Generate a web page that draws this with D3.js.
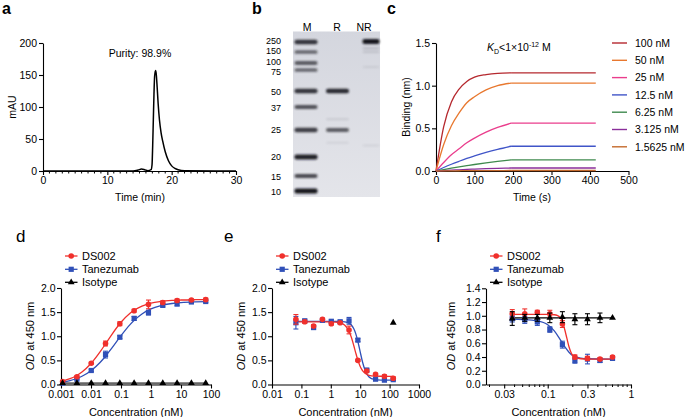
<!DOCTYPE html>
<html><head><meta charset="utf-8">
<script src="https://cdn.jsdelivr.net/npm/d3@7"></script>
<style>body{margin:0;background:#fff}svg{display:block}</style>
</head><body>
<svg id="c" width="685" height="417"></svg>
<script>
// ================= DATA =================
// a: SEC-HPLC chromatogram
const secTime = [0,14,14.8,15.3,15.8,16.3,16.8,16.95,17.05,17.15,17.25,17.35,17.5,17.6,17.75,17.9,18.1,18.35,18.6,19.0,19.5,20.0,20.5,21.0,22.0,30];
const secMAU  = [0,0,1.5,3,2,0.5,2,10,40,80,120,148,157,152,130,105,80,60,47,30,16,8,4,2,0.5,0];
const secXTicks = [0,10,20,30];
const secYTicks = [0,50,100,150,200];
const purityText = "Purity: 98.9%";

// b: SDS-PAGE
const gelLanes = ["M","R","NR"];
const markerKDa = [250,150,100,75,50,37,25,20,15,10];
const markerIntensity = [0.85,0.6,0.65,0.6,0.85,0.7,0.8,0.95,0.75,1.0];
const reducedKDa = [50,25,30,22.5];
const reducedIntensity = [0.9,0.65,0.1,0.07];
const nonReducedKDa = [255,180,150,85,22];
const nonReducedIntensity = [1.0,0.15,0.12,0.07,0.07];

// c: BLI sensorgram
const bliTime = [0,20,40,60,80,100,130,160,195,415];
const bliLabels = ["100 nM","50 nM","25 nM","12.5 nM","6.25 nM","3.125 nM","1.5625 nM"];
const bliValues = [
  [0,0.52,0.81,0.96,1.05,1.10,1.13,1.145,1.15,1.15],
  [0,0.31,0.53,0.68,0.80,0.87,0.95,1.00,1.03,1.03],
  [0,0.10,0.19,0.26,0.33,0.385,0.455,0.51,0.56,0.56],
  [0,0.041,0.079,0.114,0.147,0.176,0.217,0.253,0.29,0.29],
  [0,0.017,0.033,0.048,0.062,0.076,0.095,0.112,0.13,0.13],
  [0,0.005,0.010,0.014,0.018,0.022,0.027,0.031,0.035,0.035],
  [0,0.001,0.002,0.003,0.004,0.004,0.005,0.005,0.006,0.006]
];
const bliXTicks = [0,100,200,300,400,500];
const bliYTicks = [0,0.5,1.0,1.5];

// d: binding ELISA
const seriesNames = ["DS002","Tanezumab","Isotype"];
const dConc = [0.00113,0.00339,0.0102,0.0305,0.0914,0.274,0.823,2.47,7.41,22.2,66.7];
const dDS002 = [0.06,0.16,0.44,0.85,1.26,1.53,1.66,1.70,1.74,1.75,1.76];
const dDS002Err = [0.01,0.02,0.02,0.05,0.04,0.03,0.09,0.03,0.03,0.02,0.03];
const dTan = [0.03,0.11,0.29,0.62,0.98,1.37,1.49,1.64,1.67,1.71,1.72];
const dTanErr = [0.01,0.01,0.02,0.07,0.03,0.04,0.05,0.03,0.04,0.02,0.02];
const dIso = [0.03,0.03,0.03,0.03,0.03,0.03,0.03,0.03,0.03,0.03,0.03];
const dFitConc = [0.00113,0.002,0.003,0.005,0.01,0.02,0.03,0.05,0.1,0.2,0.3,0.5,1,2,5,10,30,66.7];
const dFitDS002 = [0.072,0.122,0.172,0.26,0.436,0.676,0.836,1.041,1.29,1.477,1.555,1.626,1.687,1.72,1.743,1.751,1.757,1.759];
const dFitTan = [0.051,0.082,0.114,0.171,0.286,0.456,0.581,0.759,1.012,1.241,1.351,1.462,1.567,1.632,1.679,1.697,1.711,1.716];
const dFitIso = [0.02,0.02];
const dFitIsoConc = [0.00113,66.7];
const dXTicks = [0.001,0.01,0.1,1,10,100];
const dYTicks = [0,0.5,1.0,1.5,2.0];

// e: blocking ELISA
const eConc = [0.065,0.13,0.26,0.52,1.04,2.08,4.17,8.33,16.7,33.3,66.7,133];
const eDS002 = [1.35,1.30,1.21,1.35,1.26,1.28,1.13,0.50,0.28,0.21,0.17,0.13];
const eDS002Err = [0.10,0.03,0.03,0.02,0.03,0.02,0.08,0.02,0.03,0.02,0.03,0.03];
const eTan = [1.28,1.32,1.18,1.33,1.31,1.30,1.32,0.92,0.30,0.11,0.09,0.10];
const eTanErr = [0.13,0.03,0.03,0.02,0.03,0.03,0.07,0.03,0.03,0.02,0.02,0.02];
const eIsoConc = [133];
const eIso = [1.28];
const eFitConc = [0.065,0.5,1,2,3,4,5,6,7,8,9,10,12,15,20,30,50,133];
const eFitDS002 = [1.30,1.30,1.30,1.282,1.229,1.125,0.978,0.814,0.662,0.538,0.444,0.375,0.289,0.227,0.19,0.174,0.171,0.17];
const eFitTan = [1.31,1.31,1.31,1.308,1.299,1.277,1.233,1.16,1.059,0.934,0.803,0.676,0.466,0.278,0.157,0.104,0.092,0.09];
const eXTicks = [0.01,0.1,1,10,100,1000];
const eYTicks = [0,0.5,1.0,1.5,2.0];

// f: cell-based assay
const fConc = [0.0375,0.053,0.075,0.106,0.15,0.212,0.3,0.424,0.6];
const fDS002 = [1.03,1.03,1.05,1.03,0.88,0.40,0.38,0.37,0.40];
const fDS002Err = [0.06,0.07,0.03,0.05,0.05,0.03,0.03,0.02,0.02];
const fTan = [0.96,0.94,0.91,0.80,0.58,0.35,0.37,0.35,0.38];
const fTanErr = [0.05,0.05,0.05,0.04,0.05,0.04,0.07,0.03,0.02];
const fIso = [0.96,0.97,0.97,0.97,0.98,0.95,0.95,0.97,0.97];
const fIsoErr = [0.10,0.05,0.05,0.07,0.08,0.08,0.08,0.07,0];
const fFitDS002Conc = [0.0375,0.1,0.12,0.13,0.14,0.15,0.16,0.17,0.18,0.19,0.2,0.22,0.25,0.3,0.6];
const fFitDS002 = [1.02,1.02,1.015,1.005,0.98,0.92,0.80,0.67,0.55,0.47,0.42,0.39,0.375,0.37,0.37];
const fFitTanConc = [0.0375,0.05,0.075,0.1,0.12,0.14,0.16,0.18,0.2,0.25,0.3,0.6];
const fFitTan = [0.95,0.945,0.925,0.87,0.78,0.66,0.55,0.47,0.42,0.385,0.375,0.37];
const fFitIsoConc = [0.0375,0.6];
const fFitIso = [0.97,0.97];
const fXTicks = [0.03,0.1,0.3,1];
const fXMinor = [0.02,0.04,0.05,0.06,0.07,0.08,0.09,0.2,0.4,0.5,0.6,0.7,0.8,0.9];
const fYTicks = [0,0.2,0.4,0.6,0.8,1.0,1.2,1.4];

// ================= STYLE / LAYOUT =================
const FONT = '"Liberation Sans", Arial, Helvetica, sans-serif';
const RED = "#f0302c", BLUE = "#3050b8", BLACK = "#000";
const bliColors = ["#b5282e","#e8782f","#ea3d8c","#4055c8","#3f8a4e","#8a2e9b","#c46a2c"];
const svg = d3.select("#c").attr("font-family", FONT);

function styleAxis(g, fs){
  g.selectAll("path,line").attr("stroke","#000").attr("stroke-width",1.1);
  g.selectAll("text").attr("font-size",fs).attr("fill","#000").attr("font-family",FONT);
}
function text(x,y,str,opt={}){
  const t = svg.append("text").attr("x",x).attr("y",y).text(str)
    .attr("font-size",opt.fs||11).attr("text-anchor",opt.anchor||"middle").attr("fill","#000");
  if(opt.weight) t.attr("font-weight",opt.weight);
  if(opt.rotate) t.attr("transform",`rotate(-90,${x},${y})`);
  return t;
}

// ---------- panel a ----------
{
  const x = d3.scaleLinear().domain([0,30]).range([43,236]);
  const y = d3.scaleLinear().domain([0,200]).range([171,43]);
  const gx = svg.append("g").attr("transform",`translate(0,${y(0)})`)
    .call(d3.axisBottom(x).tickValues(secXTicks).tickSize(4).tickSizeOuter(0).tickPadding(2));
  styleAxis(gx,10.5);
  d3.range(0,31).filter(v=>!secXTicks.includes(v)).forEach(v=>{
    svg.append("line").attr("x1",x(v)).attr("x2",x(v)).attr("y1",y(0)).attr("y2",y(0)+2.5)
      .attr("stroke","#000").attr("stroke-width",1);
  });
  const gy = svg.append("g").attr("transform",`translate(${x(0)},0)`)
    .call(d3.axisLeft(y).tickValues(secYTicks).tickSize(4).tickSizeOuter(0).tickPadding(2));
  styleAxis(gy,10.5);
  const line = d3.line().x((d,i)=>x(secTime[i])).y(d=>y(d)).curve(d3.curveMonotoneX);
  svg.append("path").attr("d",line(secMAU)).attr("fill","none").attr("stroke","#000").attr("stroke-width",1.5);
  text(140,57,purityText,{fs:10.5});
  text(140,201,"Time (min)",{fs:10.5});
  text(16,107,"mAU",{fs:10.5,rotate:true});
  text(2,14,"a",{fs:16,anchor:"start",weight:"bold"});
}

// ---------- panel b ----------
{
  const defs = svg.append("defs");
  defs.append("filter").attr("id","blur").attr("x","-20%").attr("y","-100%").attr("width","140%").attr("height","300%")
    .append("feGaussianBlur").attr("stdDeviation",0.9);
  const grad = defs.append("linearGradient").attr("id","gelbg").attr("x1",0).attr("x2",0).attr("y1",0).attr("y2",1);
  grad.append("stop").attr("offset","0%").attr("stop-color","#d4d6de");
  grad.append("stop").attr("offset","100%").attr("stop-color","#e4e5ea");
  const gelX0 = 293, gelX1 = 380, gelY0 = 31.5, gelY1 = 197;
  svg.append("rect").attr("x",gelX0).attr("y",gelY0).attr("width",gelX1-gelX0).attr("height",gelY1-gelY0)
    .attr("fill","url(#gelbg)");
  const gy = d3.scaleLog().domain(markerKDa).range([42,52,63,70,91,107,130,157,176,191]);
  const laneCx = [306,337.5,371];
  const laneW = [23,23,17];
  const labelX = [307,337,364];
  gelLanes.forEach((l,i)=> text(labelX[i],30.5,l,{fs:10.5}));
  function bands(kda, inten, li){
    kda.forEach((k,i)=>{
      const h = 1.8 + 3.2*inten[i];
      svg.append("rect").attr("x",laneCx[li]-laneW[li]/2).attr("width",laneW[li])
        .attr("y",gy(k)-h/2).attr("height",h).attr("rx",2)
        .attr("fill","#17171f").attr("opacity",inten[i]).attr("filter","url(#blur)");
    });
  }
  bands(markerKDa, markerIntensity, 0);
  bands(reducedKDa, reducedIntensity, 1);
  bands(nonReducedKDa, nonReducedIntensity, 2);
  const lblY = [40.5,51,61.5,72,92,108,130,157,177,192];
  markerKDa.forEach((k,i)=> text(281,lblY[i]+3.4,String(k),{fs:9,anchor:"end"}));
  text(252,14,"b",{fs:16,anchor:"start",weight:"bold"});
}

// ---------- panel c ----------
{
  const x = d3.scaleLinear().domain([0,500]).range([436,628.5]);
  const y = d3.scaleLinear().domain([0,1.5]).range([171,43]);
  const gx = svg.append("g").attr("transform",`translate(0,${y(0)})`)
    .call(d3.axisBottom(x).tickValues(bliXTicks).tickSize(4).tickSizeOuter(0).tickPadding(2));
  styleAxis(gx,10.5);
  const gy = svg.append("g").attr("transform",`translate(${x(0)},0)`)
    .call(d3.axisLeft(y).tickValues(bliYTicks).tickFormat(d3.format(".1f")).tickSize(4).tickSizeOuter(0).tickPadding(2));
  styleAxis(gy,10.5);
  const split = bliTime.indexOf(195);
  bliValues.forEach((vals,s)=>{
    const pts = bliTime.map((t,i)=>[t,vals[i]]);
    const assoc = d3.line().x(d=>x(d[0])).y(d=>y(d[1])).curve(d3.curveMonotoneX)(pts.slice(0,split+1));
    const dis = d3.line().x(d=>x(d[0])).y(d=>y(d[1]))(pts.slice(split));
    svg.append("path").attr("d",assoc).attr("fill","none").attr("stroke",bliColors[s]).attr("stroke-width",1.3);
    svg.append("path").attr("d",dis).attr("fill","none").attr("stroke",bliColors[s]).attr("stroke-width",1.3);
    const ly = 43 + s*17.3;
    svg.append("line").attr("x1",612).attr("x2",627).attr("y1",ly).attr("y2",ly).attr("stroke",bliColors[s]).attr("stroke-width",1.4);
    text(635,ly+3.8,bliLabels[s],{fs:10.5,anchor:"start"});
  });
  const kd = svg.append("text").attr("x",487).attr("y",51).attr("font-size",10.5).attr("fill","#000");
  kd.append("tspan").attr("font-style","italic").text("K");
  kd.append("tspan").attr("font-size",7).attr("dy",2.5).text("D");
  kd.append("tspan").attr("dy",-2.5).text("<1\u00d710");
  kd.append("tspan").attr("font-size",7).attr("dy",-4).text("-12");
  kd.append("tspan").attr("dy",4).text(" M");
  text(532,201,"Time (s)",{fs:10.5});
  text(410,107,"Binding (nm)",{fs:10.5,rotate:true});
  text(387,14,"c",{fs:16,anchor:"start",weight:"bold"});
}

// ---------- bottom panels ----------
function symbol(g, type, cx, cy, color){
  if(type===0) g.append("circle").attr("cx",cx).attr("cy",cy).attr("r",2.8).attr("fill",color);
  else if(type===1) g.append("rect").attr("x",cx-2.6).attr("y",cy-2.6).attr("width",5.2).attr("height",5.2).attr("fill",color);
  else g.append("path").attr("d",d3.symbol().type(d3.symbolTriangle).size(20)()).attr("transform",`translate(${cx},${cy})`).attr("fill",color);
}
function drawPoints(g,x,y,conc,vals,errs,type,color){
  conc.forEach((c,i)=>{
    const e = errs ? errs[i] : 0;
    if(e>0){
      const cx=x(c), y1=y(vals[i]+e), y2=y(vals[i]-e);
      g.append("line").attr("x1",cx).attr("x2",cx).attr("y1",y1).attr("y2",y2).attr("stroke",color).attr("stroke-width",1.1);
      [y1,y2].forEach(yy=>g.append("line").attr("x1",cx-2.5).attr("x2",cx+2.5).attr("y1",yy).attr("y2",yy).attr("stroke",color).attr("stroke-width",1.1));
    }
    symbol(g,type,x(c),y(vals[i]),color);
  });
}
function drawFit(g,x,y,conc,vals,color,w){
  const l = d3.line().x((d,i)=>x(conc[i])).y(d=>y(d)).curve(d3.curveMonotoneX);
  g.append("path").attr("d",l(vals)).attr("fill","none").attr("stroke",color).attr("stroke-width",w||1.3);
}
function legend(x0){
  const cols=[RED,BLUE,BLACK];
  const ys=[256,269.3,282.3];
  seriesNames.forEach((n,i)=>{
    svg.append("line").attr("x1",x0+4).attr("x2",x0+16.5).attr("y1",ys[i]).attr("y2",ys[i]).attr("stroke",cols[i]).attr("stroke-width",1.3);
    symbol(svg,i,x0+10.2,ys[i],cols[i]);
    text(x0+21,ys[i]+4,n,{fs:11,anchor:"start"});
  });
}
function odTitle(x,y){
  const t = svg.append("text").attr("x",x).attr("y",y).attr("font-size",11).attr("text-anchor","middle")
    .attr("transform",`rotate(-90,${x},${y})`);
  t.append("tspan").attr("font-style","italic").text("OD");
  t.append("tspan").text(" at 450 nm");
}
function bottomAxes(x,y,xt,yt,yfmt,minor){
  const y0 = y.range()[0];
  const gx = svg.append("g").attr("transform",`translate(0,${y0})`)
    .call(d3.axisBottom(x).tickValues(xt).tickFormat(d=>String(d)).tickSize(4).tickSizeOuter(0).tickPadding(2));
  styleAxis(gx,10.5);
  if(minor) minor.forEach(v=>svg.append("line").attr("x1",x(v)).attr("x2",x(v)).attr("y1",y0).attr("y2",y0+2.5).attr("stroke","#000").attr("stroke-width",1));
  const gy = svg.append("g").attr("transform",`translate(${x.range()[0]},0)`)
    .call(d3.axisLeft(y).tickValues(yt).tickFormat(yfmt).tickSize(4).tickSizeOuter(0).tickPadding(1.5));
  styleAxis(gy,10.5);
}

// d
{
  const x = d3.scaleLog().domain([0.001,100]).range([61,211]);
  const y = d3.scaleLinear().domain([0,2]).range([384.5,288]);
  bottomAxes(x,y,dXTicks,dYTicks,d3.format(".1f"));
  const g = svg.append("g");
  drawFit(g,x,y,dFitIsoConc,dFitIso,"#666",2.6);
  drawFit(g,x,y,dFitConc,dFitTan,BLUE);
  drawFit(g,x,y,dFitConc,dFitDS002,RED);
  drawPoints(g,x,y,dConc,dTan,dTanErr,1,BLUE);
  drawPoints(g,x,y,dConc,dDS002,dDS002Err,0,RED);
  drawPoints(g,x,y,dConc,dIso,null,2,BLACK);
  legend(61);
  odTitle(34,336);
  text(136,415.5,"Concentration (nM)",{fs:11});
  text(16,242,"d",{fs:17,anchor:"start"});
}
// e
{
  const x = d3.scaleLog().domain([0.01,1000]).range([272,419]);
  const y = d3.scaleLinear().domain([0,2]).range([384.5,288]);
  bottomAxes(x,y,eXTicks,eYTicks,d3.format(".1f"));
  const g = svg.append("g");
  drawFit(g,x,y,eFitConc,eFitTan,BLUE);
  drawFit(g,x,y,eFitConc,eFitDS002,RED);
  drawPoints(g,x,y,eConc,eTan,eTanErr,1,BLUE);
  drawPoints(g,x,y,eConc,eDS002,eDS002Err,0,RED);
  drawPoints(g,x,y,eIsoConc,eIso,null,2,BLACK);
  legend(272);
  odTitle(245,336);
  text(345.5,415.5,"Concentration (nM)",{fs:11});
  text(224,242,"e",{fs:17,anchor:"start"});
}
// f
{
  const x = d3.scaleLog().domain([0.01815,1]).range([486,631]);
  const y = d3.scaleLinear().domain([0,1.4]).range([384.5,288.3]);
  bottomAxes(x,y,fXTicks,fYTicks,d3.format(".1f"),fXMinor);
  const g = svg.append("g");
  drawFit(g,x,y,fFitTanConc,fFitTan,BLUE);
  drawFit(g,x,y,fFitDS002Conc,fFitDS002,RED);
  drawFit(g,x,y,fFitIsoConc,fFitIso,BLACK);
  drawPoints(g,x,y,fConc,fTan,fTanErr,1,BLUE);
  drawPoints(g,x,y,fConc,fDS002,fDS002Err,0,RED);
  drawPoints(g,x,y,fConc,fIso,fIsoErr,2,BLACK);
  legend(486);
  odTitle(455,336);
  text(558.5,415.5,"Concentration (nM)",{fs:11});
  text(436,242,"f",{fs:17,anchor:"start"});
}
</script>
</body></html>
